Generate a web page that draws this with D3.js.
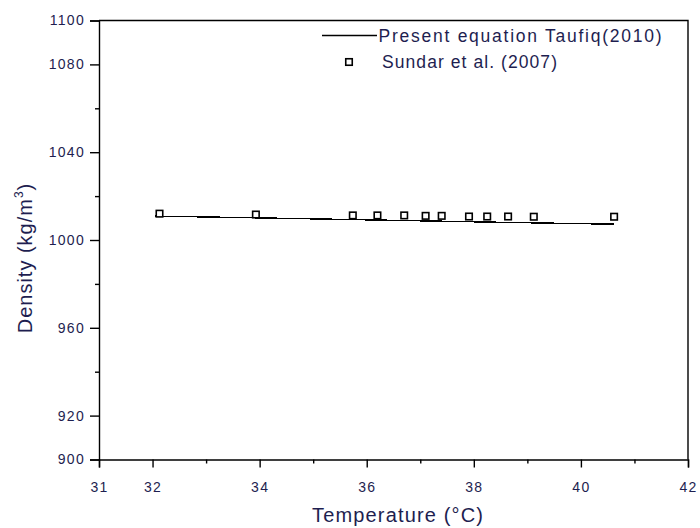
<!DOCTYPE html>
<html>
<head>
<meta charset="utf-8">
<script src="https://cdn.jsdelivr.net/npm/d3@7"></script>
<style>
  html, body { margin: 0; padding: 0; background: #fff; }
  svg { display: block; font-family: Arial, "Liberation Sans", sans-serif; }
</style>
</head>
<body>
<svg id="chart" width="700" height="528"></svg>
<script>
// ---- data ----
const sundarTemp = [32.13, 33.93, 35.74, 36.20, 36.70, 37.10, 37.40, 37.91, 38.25, 38.64, 39.12, 40.62];
const sundarDensity = [1012.0, 1011.6, 1011.2, 1011.2, 1011.2, 1011.0, 1011.0, 1010.7, 1010.7, 1010.7, 1010.6, 1010.6];
const eqTemp = [32.05, 33.93, 35.74, 37.10, 38.64, 40.62];
const eqDensity = [1010.9, 1010.1, 1009.3, 1008.7, 1008.0, 1007.2];
const xMajorTicks = [31, 32, 34, 36, 38, 40, 42];
const xMinorTicks = [33, 35, 37, 39, 41];
const yMajorTicks = [900, 920, 960, 1000, 1040, 1080, 1100];
const yMinorTicks = [940, 980, 1020, 1060];
const legendLabels = ["Present equation Taufiq(2010)", "Sundar et al. (2007)"];
const xTitle = "Temperature (\u00B0C)";

// ---- layout ----
const svg = d3.select("#chart");
const pLeft = 99, pRight = 688, pTop = 20.5, pBottom = 459.5;
const x = d3.scaleLinear().domain([31, 42]).range([pLeft, pRight]);
const y = d3.scaleLinear().domain([900, 1100]).range([pBottom, pTop]);
const labelColor = "#1e1e50";

// frame (top & right)
svg.append("path")
  .attr("d", `M${pLeft},${pTop}H${pRight}V${pBottom}`)
  .attr("fill", "none").attr("stroke", "#000").attr("stroke-width", 1.4);

// x axis
const gx = svg.append("g").attr("transform", `translate(0,${pBottom})`);
gx.call(d3.axisBottom(x).tickValues(xMajorTicks).tickSize(8).tickPadding(15).tickFormat(d3.format("d")));
const gxm = svg.append("g").attr("transform", `translate(0,${pBottom})`);
gxm.call(d3.axisBottom(x).tickValues(xMinorTicks).tickSize(4).tickFormat(""));
gxm.select(".domain").remove();

// y axis
const gy = svg.append("g").attr("transform", `translate(${pLeft},0)`);
gy.call(d3.axisLeft(y).tickValues(yMajorTicks).tickSize(9).tickPadding(5).tickFormat(d3.format("d")));
const gym = svg.append("g").attr("transform", `translate(${pLeft},0)`);
gym.call(d3.axisLeft(y).tickValues(yMinorTicks).tickSize(4).tickFormat(""));
gym.select(".domain").remove();

[gx, gxm, gy, gym].forEach(g => {
  g.selectAll(".domain").attr("stroke", "#000").attr("stroke-width", 1.4);
  g.selectAll(".tick line").attr("stroke", "#000").attr("stroke-width", 1.4);
  g.selectAll(".tick text")
    .attr("fill", labelColor)
    .style("font-size", "14px")
    .style("letter-spacing", "1.3px");
});

// axis titles
svg.append("text")
  .attr("x", 397.5).attr("y", 521.5)
  .attr("text-anchor", "middle")
  .attr("fill", labelColor)
  .attr("textLength", 171).attr("lengthAdjust", "spacing")
  .style("font-size", "20px")
  .text(xTitle);

const yt = svg.append("text")
  .attr("transform", "translate(31.5,258) rotate(-90)")
  .attr("text-anchor", "middle")
  .attr("fill", labelColor)
  .style("font-size", "20px")
  .style("letter-spacing", "1px");
yt.append("tspan").text("Density (kg/m");
yt.append("tspan").attr("dy", -9).style("font-size", "12px").text("3");
yt.append("tspan").attr("dy", 9).text(")");

// equation line
const line = d3.line().x((d, i) => x(eqTemp[i])).y(d => y(d));
svg.append("path")
  .datum(eqDensity)
  .attr("d", line)
  .attr("fill", "none")
  .attr("stroke", "#000")
  .attr("stroke-width", 1.4)
  .attr("shape-rendering", "crispEdges");

// markers
const ms = 6.5;
svg.append("g").selectAll("rect")
  .data(sundarDensity)
  .join("rect")
  .attr("x", (d, i) => x(sundarTemp[i]) - ms / 2)
  .attr("y", d => y(d) - ms / 2)
  .attr("width", ms).attr("height", ms)
  .attr("fill", "#fff")
  .attr("stroke", "#000")
  .attr("stroke-width", 1.6);

// legend
svg.append("line")
  .attr("x1", 322).attr("x2", 377).attr("y1", 35.5).attr("y2", 35.5)
  .attr("stroke", "#000").attr("stroke-width", 1.4);
svg.append("text")
  .attr("x", 378.5).attr("y", 41.5)
  .attr("fill", labelColor)
  .attr("textLength", 283).attr("lengthAdjust", "spacing")
  .style("font-size", "17.5px")
  .text(legendLabels[0]);
svg.append("rect")
  .attr("x", 349 - ms / 2).attr("y", 62 - ms / 2)
  .attr("width", ms).attr("height", ms)
  .attr("fill", "#fff").attr("stroke", "#000").attr("stroke-width", 1.6);
svg.append("text")
  .attr("x", 382).attr("y", 68)
  .attr("fill", labelColor)
  .attr("textLength", 175).attr("lengthAdjust", "spacing")
  .style("font-size", "17.5px")
  .text(legendLabels[1]);
</script>
</body>
</html>
